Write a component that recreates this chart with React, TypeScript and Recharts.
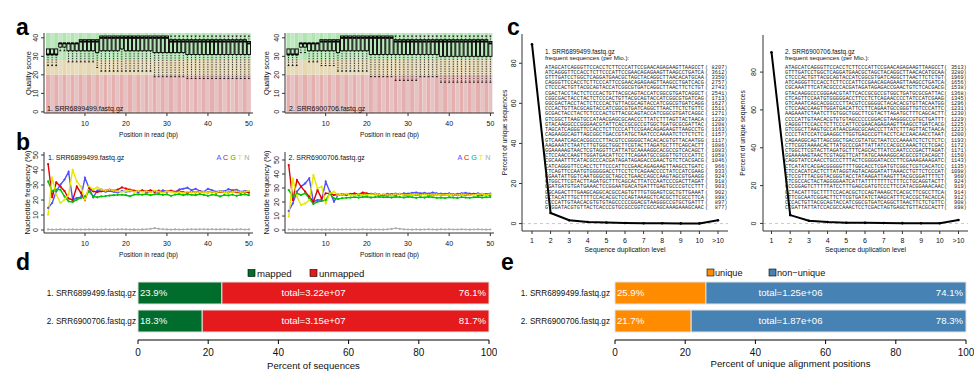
import React from 'react';
import {
  BarChart, Bar, Cell, ComposedChart, LineChart, Line, XAxis, YAxis,
  ReferenceLine, ReferenceDot, LabelList,
} from 'recharts';

const SANS = '"Liberation Sans", Arial, Helvetica, sans-serif';
const MONO = '"Liberation Mono", "DejaVu Sans Mono", monospace';
const INK = '#111';
const FRAME = '#333';

// ---------- panel a : quality per cycle ----------
const positions = Array.from({ length: 50 }, (_, i) => i + 1);
const cycleTicks = [10, 20, 30, 40, 50];
const qualTicks = [0, 10, 20, 30, 40];
const QUAL_DOMAIN: [number, number] = [-0.6, 42.6];

const qual1Lower = [25, 25, 25, 33, 33, 27, 27, 27, 27, 27, 27, 27, 24, 22, 22, 22, 22, 22, 22, 22, 22, 22, 22, 22, 22, 22, 19, 19, 19, 19, 19, 19, 19, 19, 18, 18, 18, 18, 18, 18, 18, 18, 18, 18, 18, 18, 18, 18, 18, 18];
const qual1Q1 = [31, 31, 31, 35, 35, 33, 33, 33, 33, 33, 33, 33, 32, 33, 33, 33, 33, 33, 34, 33, 33, 33, 33, 33, 33, 33, 32, 32, 32, 32, 32, 32, 32, 32, 31, 31, 31, 31, 31, 31, 31, 31, 31, 31, 31, 31, 31, 31, 31, 31];
const qual1Median = [31, 31, 31, 37, 37, 37, 37, 37, 38, 38, 38, 38, 38, 40, 40, 40, 40, 40, 40, 40, 40, 40, 40, 40, 40, 40, 40, 40, 40, 40, 38, 38, 38, 38, 38, 38, 38, 38, 38, 38, 38, 38, 38, 38, 38, 38, 38, 38, 38, 37];
const qual1Q3 = [34, 34, 34, 37, 37, 37, 37, 37, 39, 39, 39, 39, 39, 41, 41, 41, 41, 41, 41, 41, 41, 41, 41, 41, 41, 41, 41, 41, 41, 41, 39, 39, 39, 39, 39, 39, 39, 39, 39, 39, 39, 39, 39, 39, 39, 39, 39, 39, 39, 38];
const qual1Upper = [34, 34, 34, 37, 37, 37, 37, 37, 39, 39, 39, 39, 39, 41, 41, 41, 41, 41, 41, 41, 41, 41, 41, 41, 41, 41, 41, 41, 41, 41, 41, 41, 41, 41, 41, 41, 41, 41, 41, 41, 41, 41, 41, 41, 41, 41, 41, 41, 41, 41];

const qual2Lower = [25, 25, 25, 32, 32, 27, 27, 27, 25, 25, 25, 25, 22, 22, 22, 22, 22, 22, 22, 22, 19, 19, 19, 19, 19, 19, 17, 17, 17, 17, 17, 17, 19, 19, 19, 19, 19, 16, 16, 16, 16, 16, 16, 16, 16, 16, 16, 16, 16, 16];
const qual2Q1 = [31, 31, 31, 35, 35, 33, 33, 33, 33, 33, 33, 33, 32, 33, 33, 33, 33, 33, 33, 33, 31, 31, 31, 31, 31, 31, 31, 31, 31, 31, 31, 31, 31, 31, 31, 31, 31, 30, 30, 30, 30, 30, 30, 30, 30, 30, 30, 30, 30, 30];
const qual2Median = [31, 31, 31, 37, 37, 37, 37, 37, 38, 38, 38, 38, 38, 40, 40, 40, 40, 40, 40, 40, 40, 40, 40, 40, 40, 40, 38, 38, 38, 38, 38, 38, 38, 38, 38, 38, 38, 38, 38, 38, 38, 38, 38, 38, 38, 38, 38, 38, 38, 37];
const qual2Q3 = [34, 34, 34, 37, 37, 37, 37, 37, 39, 39, 39, 39, 39, 41, 41, 41, 41, 41, 41, 41, 41, 41, 41, 41, 41, 41, 39, 39, 39, 39, 39, 39, 39, 39, 39, 39, 39, 39, 39, 39, 39, 39, 39, 39, 39, 39, 39, 39, 39, 38];
const qual2Upper = [34, 34, 34, 37, 37, 37, 37, 37, 39, 39, 39, 39, 39, 41, 41, 41, 41, 41, 41, 41, 41, 41, 41, 41, 41, 41, 41, 41, 41, 41, 41, 41, 41, 41, 41, 41, 41, 41, 41, 41, 41, 41, 41, 41, 41, 41, 41, 41, 41, 41];

// background bands: below 20 poor, 20-28 fair, above 28 good
const qualZones = [
  { key: 'under', size: QUAL_DOMAIN[0], fills: ['#e6afaf', '#e6c3c3'] },
  { key: 'poor', size: 20, fills: ['#e6afaf', '#e6c3c3'] },
  { key: 'fair', size: 8, fills: ['#e6d7af', '#e6dcc3'] },
  { key: 'good', size: QUAL_DOMAIN[1] - 28, fills: ['#afe6af', '#c3e6c3'] },
];

// ---------- panel b : nucleotide frequency ----------
const nuc1A = [14.7, 18, 25.8, 30.2, 33.6, 38.7, 20.2, 21.3, 21.8, 34.7, 28, 21.8, 26.2, 27, 25.5, 26, 25.5, 25, 26, 25.5, 25.8, 26, 25.2, 26.5, 25, 25.5, 26, 25, 26.5, 25.5, 26, 25.2, 27, 27.5, 28.2, 26.5, 27.5, 26, 25.5, 27.5, 26.5, 25.5, 26, 25.8, 27.2, 26.5, 26.8, 25.5, 26, 25.8];
const nuc1C = [44, 21.8, 31.8, 29, 26, 21, 20, 29, 24.7, 20, 28, 25.8, 25.3, 25.8, 26.2, 26.9, 26.2, 26.9, 28.4, 27.6, 26.9, 26.2, 25.8, 26.2, 25.8, 26.5, 25.3, 26.2, 25.3, 25.8, 26.2, 25.5, 25.8, 25.2, 24.8, 25.5, 25, 25.8, 25.2, 25, 25.5, 24.8, 25.5, 25.2, 25, 25.8, 25.2, 24.8, 25.5, 24.9];
const nuc1G = [32.4, 25.8, 26.9, 26.9, 22.4, 19.1, 18.7, 20.2, 21.3, 22.4, 25.8, 22.4, 21.8, 22.4, 22.6, 23, 23.2, 23.4, 23.5, 23.2, 22.5, 23.6, 23.8, 23.5, 24, 23.2, 23.8, 24, 23.4, 23.8, 22.8, 23.6, 24, 23.2, 23.8, 23.5, 23.2, 24, 23.4, 22.8, 23.6, 23.2, 22.4, 23.4, 23, 23.6, 22.8, 23.4, 23.8, 23.2];
const nuc1T = [10.2, 35.1, 23.6, 18, 20.2, 23.6, 40.2, 32.4, 29, 20.2, 29, 26.9, 28.4, 26.9, 26.2, 26.9, 26.2, 25.8, 25.5, 25.8, 26.2, 25.5, 26, 25.5, 25.8, 25.2, 26.2, 25.5, 25, 25.8, 25.5, 25, 25.2, 24.8, 25.5, 25.2, 25, 25.5, 25.2, 24.8, 25.5, 25, 25.8, 25.2, 25, 25.5, 25.8, 25.2, 25.5, 26];
const nuc1N = [0.4, 0.3, 0.3, 0.4, 0.3, 0.3, 0.4, 0.3, 0.3, 0.3, 0.4, 0.3, 0.3, 0.3, 0.4, 0.3, 0.3, 0.4, 0.5, 0.4, 0.3, 0.4, 0.3, 0.4, 0.5, 0.8, 1.2, 0.8, 0.5, 0.4, 0.3, 0.4, 0.3, 0.3, 0.4, 0.5, 0.4, 0.5, 0.5, 0.4, 0.5, 0.4, 0.4, 0.5, 0.4, 0.3, 0.4, 0.5, 0.3, 0.4];

const nuc2A = [13.6, 19, 27.4, 31, 33.3, 36.9, 20.2, 21.4, 21.4, 34.5, 27.4, 20.2, 25, 25.5, 25.2, 25.5, 25.8, 25, 25.5, 25.2, 25.8, 26, 25.5, 25.2, 25.8, 25.5, 26, 25.5, 26.2, 26, 26.5, 26.8, 26.2, 26.5, 26, 26.8, 26.2, 26, 25.8, 26.2, 25.5, 25.8, 26.2, 26.5, 26, 25.8, 26.2, 25.8, 25.5, 26];
const nuc2C = [46.4, 21.4, 35.7, 31, 27.4, 23.8, 20.2, 28.6, 22.6, 26.2, 26.2, 25, 25.3, 25.5, 25.2, 25.8, 26.2, 25.5, 26.8, 26.2, 25.8, 25.5, 25, 25.2, 24.8, 25.5, 25, 25.8, 25.2, 24.8, 25.5, 25, 25.2, 25.8, 25, 24.8, 25.5, 25.2, 25, 25.5, 25.2, 24.8, 25.5, 25, 25.2, 25.8, 25, 25.2, 25.5, 25];
const nuc2G = [28.6, 23.8, 26.2, 25, 26.2, 22.6, 18.6, 20.2, 20.7, 21.4, 26.2, 22.6, 22.1, 22.8, 23, 23.2, 23.5, 23.2, 23.6, 23.8, 23.2, 23.5, 23.8, 23.4, 23.6, 23.2, 23.8, 23.5, 23.2, 23.8, 23.4, 23, 23.5, 23.2, 23.8, 23.4, 23, 23.2, 22.8, 23.4, 23.2, 22.8, 23.5, 23.2, 23, 23.4, 23.6, 23.2, 23.4, 23.5];
const nuc2T = [9.5, 36.9, 23.8, 17.9, 19, 21.4, 39.3, 29.8, 31, 19, 26.2, 27.4, 25, 25.5, 25.8, 25.2, 24.8, 25.5, 25, 25.2, 25.5, 25.8, 25.2, 25.5, 25, 25.2, 25.5, 25.8, 25.2, 25, 25.5, 25.2, 25, 25.5, 25.2, 24.8, 25.5, 25.2, 25, 25.5, 25.2, 25, 25.5, 25.2, 25, 25.2, 25.5, 25.8, 25.2, 25.5];
const nuc2N = [0.4, 0.3, 0.3, 0.3, 0.4, 0.3, 0.3, 0.4, 0.3, 0.3, 0.3, 0.4, 0.3, 0.3, 0.4, 0.3, 0.4, 0.3, 0.5, 0.4, 0.3, 0.4, 0.4, 0.3, 0.5, 0.8, 1.3, 0.9, 0.5, 0.4, 0.3, 0.4, 0.3, 0.4, 0.5, 0.4, 0.3, 0.5, 0.4, 0.5, 0.4, 0.4, 0.5, 0.4, 0.3, 0.4, 0.5, 0.4, 0.3, 0.4];

const nucTicks = [0, 10, 20, 30, 40, 50];
const nucSeries = [
  { key: 'A', color: '#5050ff' },
  { key: 'C', color: '#e00000' },
  { key: 'G', color: '#00c000' },
  { key: 'T', color: '#e6e600' },
  { key: 'N', color: '#a9a9a9' },
];

// ---------- panel c : duplication levels ----------
const dupLevels = ['1', '2', '3', '4', '5', '6', '7', '8', '9', '10', '>10'];
const dup1 = [89.5, 5.3, 1.7, 0.8, 0.5, 0.3, 0.2, 0.15, 0.1, 0.1, 1.7];
const dup2 = [90.5, 4.4, 1.4, 0.7, 0.4, 0.3, 0.2, 0.15, 0.1, 0.1, 1.8];
const dupTicks = [0, 20, 40, 60, 80];

const freqSeqs1 = [
  'ATAGCATCAGGGTTCCACCTCTTCCCATTCCGAACAGAGAAGTTAAGCCT',
  'ATCAGGGTTCCACCTCTTCCCATTCCGAACAGAGAAGTTAAGCCTGATCA',
  'GTTTGATCCTGGCTCAGGATGAACGCTAGCTACAGGCTTAACACATGCAA',
  'CAGGGTTCCACCTCTTCCCATTCCGAACAGAGAAGTTAAGCCTGATCACG',
  'CTCCCACTGTTACGCAGTACCATCGGCGTGATCAGGCTTAACTTCTCTGT',
  'CGACTACCTACTCTCCCACTGTTACGCAGTACCATCGGCGTGATCAGGCT',
  'CGGCGACTACCTACTCTCCCACTGTTACGCAGTACCATCGGCGTGATCAG',
  'GGCGACTACCTACTCTCCCACTGTTACGCAGTACCATCGGCGTGATCAGG',
  'CCCACTGTTACGCAGTACCATCGGCGTGATCAGGCTTAACTTCTCTGTTC',
  'GCGACTACCTACTCTCCCACTGTTACGCAGTACCATCGGCGTGATCAGGC',
  'GTCGGCTTAAGTGCCATAACGAGCGCAACCCTTATCTTTAGTTACTAACA',
  'GTACAAGGCCCGGGAACGTATTCACCGCGCCGTGGCTGATGCGCGATTAC',
  'TAGCATCAGGGTTCCACCTCTTCCCATTCCGAACAGAGAAGTTAAGCCTG',
  'CAGAAGGCAGTTAGCGGCTGACCGTATGCTAATCCCAAAATCTCTCTCTC',
  'GTCAAATCAGCACGGCCCTTACGTCCGGGGCTACACACGTGTTACAATGG',
  'AAGAAATCTAATCTTGTGGCTGGCTTCGTACTTAGATGCTTTCAGCACTT',
  'GGAAAAAGTAACTCGTAGGTTCATTATGCAAAAGGCACGCCGTCACAGCT',
  'CTCCAACCAAGTTGGATGACATTCCTTCAGAATGCCGGGTTGTCCCATTC',
  'CGCAAATTTCATACGCCCACGATAGATAGAGACCGAACTGTCTCACGACG',
  'CATCAGGGTTCCACCTCTTCCCATTCCGAACAGAGAAGTTAAGCCTGATC',
  'CTCAGTTCCAATGTGGGGGACCTTCCTCTCAGAACCCCTATCCATCGAAG',
  'GGAATATTGGTCAATGGGCGCTAGCCTGAACCAGCCAAGTAGCGTGAAGG',
  'CTGGCTTCGTACTTAGATGCTTTCAGCACTTATCCAATCCCGACTTAGAT',
  'GGATGATGTGATGAAACTCCGGAATGACATGATTTGAGTGCCCGTCCTTT',
  'GGCAGACTTTGAAGCAGGCACGCCAGTGTTTGTGGAGTCGCTGTTGAAAT',
  'GCTACATTTGCTTTTCCACACGCTCCAGTAAAGCTCACGCTTCGCCTTCA',
  'CCCCATTGTAACACGTGTGTAGCCCCCGGACGTAAGGGCCGTGCTGATTT',
  'GTGGATACGTGTTACTCACCCGTGCGCCGGTCGCCAGCAAAGAAAGCAAC',
];
const freqCounts1 = [8207, 3612, 3350, 2757, 2743, 2541, 1713, 1627, 1511, 1271, 1220, 1208, 1163, 1157, 1117, 1086, 1083, 1058, 1046, 966, 933, 924, 918, 903, 902, 898, 897, 877];

const freqSeqs2 = [
  'ATAGCATCAGGGTTCCACCTCTTCCCATTCCGAACAGAGAAGTTAAGCCT',
  'GTTTGATCCTGGCTCAGGATGAACGCTAGCTACAGGCTTAACACATGCAA',
  'CTCCCACTGTTACGCAGTACCATCGGCGTGATCAGGCTTAACTTCTCTGT',
  'ATCAGGGTTCCACCTCTTCCCATTCCGAACAGAGAAGTTAAGCCTGATCA',
  'CGCAAATTTCATACGCCCACGATAGATAGAGACCGAACTGTCTCACGACG',
  'GTACAAGGCCCGGGAACGTATTCACCGCGCCGTGGCTGATGCGCGATTAC',
  'CTCAGTTCCAATGTGGGGGACCTTCCTCTCAGAACCCCTATCCATCGAAG',
  'GTCAAATCAGCACGGCCCTTACGTCCGGGGCTACACACGTGTTACAATGG',
  'CTCCAACCAAGTTGGATGACATTCCTTCAGAATGCCGGGTTGTCCCATTC',
  'AAGAAATCTAATCTTGTGGCTGGCTTCGTACTTAGATGCTTTCAGCACTT',
  'CCCCATTGTAACACGTGTGTAGCCCCCGGACGTAAGGGCCGTGCTGATTT',
  'CAGGGTTCCACCTCTTCCCATTCCGAACAGAGAAGTTAAGCCTGATCACG',
  'GTCGGCTTAAGTGCCATAACGAGCGCAACCCTTATCTTTAGTTACTAACA',
  'CCCCTATCCATCGAAGGCTTGGTGAGCCGTTACCTCACCAACAACCTAAT',
  'CAGAAGGCAGTTAGCGGCTGACCGTATGCTAATCCCAAAATCTCTCTCTC',
  'CTTCGGTAAAACACTTATGCCCGATTATTATCCACGCCAAACTCCTCGAC',
  'CTGGCTTCGTACTTAGATGCTTTCAGCACTTATCCAATCCCGACTTAGAT',
  'GGAAAAAGTAACTCGTAGGTTCATTATGCAAAAGGCACGCCGTCACAGCT',
  'CAGGTATCCAACCTGCCCTTTACTCGGGGATACCCTTCGAAAGAAAGATC',
  'CTCATATCACGACGGGGGTTTTGGCACCTCGATGTCGGCTCGTCACATCC',
  'CTCCACATCACTCTTATAGGTAGTACAGGATATTAAACCTGTTCTCCCAT',
  'GTCCGTTTACGGTACGGGTACCTATAAGATTAAGTTTACGCGGATTTTCT',
  'GTCGCCACTACTAGGGGAATCATTATTTTTTTTCTTTCCTGCAGGTACTT',
  'GCCGGAGTCTTTTTATCCTTTGAGCGATGTCCCTTCCATACGGAAACAAC',
  'GCTACATTTGCTTTTCCACACGCTCCAGTAAAGCTCACGCTTCGCCTTCA',
  'GTTCGCAATCGGACTTCTTCGTGATATCTAAGCATTTCACCGCTACACCA',
  'CCCACTGTTACGCAGTACCATCGGCGTGATCAGGCTTAACTTCTCTGTTC',
  'CCGATTATTATCCACGCCAAACTCCTCGACTAGTGAGCTGTTACGCACTT',
];
const freqCounts2 = [3513, 3280, 1969, 1656, 1538, 1368, 1345, 1296, 1231, 1230, 1229, 1225, 1223, 1200, 1193, 1172, 1171, 1150, 1143, 1135, 1098, 960, 924, 919, 914, 912, 908, 898];

// ---------- panels d, e : mapping and uniqueness ----------
const samples = ['1. SRR6899499.fastq.gz', '2. SRR6900706.fastq.gz'];
const mappedPct = [23.9, 18.3];
const unmappedPct = [76.1, 81.7];
const mappedTotals = ['3.22e+07', '3.15e+07'];
const uniquePct = [25.9, 21.7];
const nonUniquePct = [74.1, 78.3];
const uniqueTotals = ['1.25e+06', '1.87e+06'];
const pctTicks = [0, 20, 40, 60, 80, 100];

// ---------- helpers ----------
type Box = { x0: number; y0: number; x1: number; y1: number };

const place = (b: Box, yw: number, xh: number) => ({
  style: { position: 'absolute' as const, left: b.x0 - yw - 2, top: b.y0 - 2 },
  width: b.x1 - b.x0 + yw + 4,
  height: b.y1 - b.y0 + xh + 4,
  margin: { top: 2, right: 2, bottom: 2, left: 2 },
});

const XTick = (props: any) => {
  const { x, y, payload, fs = 7 } = props;
  return (
    <text x={x} y={y} dy="0.71em" textAnchor="middle" fontSize={fs} fontFamily={SANS} fill={INK}>
      {payload?.value}
    </text>
  );
};

const RotTick = (props: any) => {
  const { x, y, payload, fs = 7 } = props;
  return (
    <text x={x} y={y} dy="0.35em" textAnchor="middle" fontSize={fs} fontFamily={SANS} fill={INK}
      transform={`rotate(-90 ${x} ${y})`}>
      {payload?.value}
    </text>
  );
};

const CatTick = (props: any) => {
  const { x, y, payload } = props;
  return (
    <text x={x} y={y} dy="0.35em" textAnchor="end" fontSize={8.2} fontFamily={SANS} fill={INK}>
      {payload?.value}
    </text>
  );
};

// one boxplot per cycle, drawn inside the bar spanning lower..upper whisker
const BoxShape = (props: any) => {
  const { x, y, width, height, payload } = props;
  if (!payload || width == null || height == null) return null;
  const { lw, q1, med, q3, uw } = payload;
  const top = Math.min(y, y + height);
  const h = Math.abs(height);
  const py = (v: number) => top + (h * (uw - v)) / (uw - lw);
  const cx = x + width / 2;
  const bw = width * 0.8;
  const sw = width * 0.45;
  return (
    <g>
      {uw > q3 && (
        <>
          <line x1={cx} x2={cx} y1={py(uw)} y2={py(q3)} stroke="#000" strokeWidth={0.8} strokeDasharray="1.2 1.2" />
          <line x1={cx - sw / 2} x2={cx + sw / 2} y1={py(uw)} y2={py(uw)} stroke="#000" strokeWidth={0.8} />
        </>
      )}
      {q1 > lw && (
        <>
          <line x1={cx} x2={cx} y1={py(q1)} y2={py(lw)} stroke="#000" strokeWidth={0.8} strokeDasharray="1.2 1.2" />
          <line x1={cx - sw / 2} x2={cx + sw / 2} y1={py(lw)} y2={py(lw)} stroke="#000" strokeWidth={0.9} />
        </>
      )}
      <rect x={cx - bw / 2} y={py(q3)} width={bw} height={py(q1) - py(q3)} fill="none" stroke="#000" strokeWidth={0.9} />
      <line x1={cx - bw / 2} x2={cx + bw / 2} y1={py(med)} y2={py(med)} stroke="#000" strokeWidth={2} />
    </g>
  );
};

// ---------- panel components ----------
function QualityPanel({ box, pad, lower, q1, median, q3, upper }: any) {
  const f = place(box, 12, 14);
  const rows = positions.map((pos, i) => ({ pos, lw: lower[i], q1: q1[i], med: median[i], q3: q3[i], uw: upper[i] }));
  const zoneRows = positions.map((pos) => {
    const r: any = { pos };
    qualZones.forEach((z) => { r[z.key] = z.size; });
    return r;
  });
  const xPad = { left: pad, right: pad };
  return (
    <>
      <div style={f.style}>
        <BarChart width={f.width} height={f.height} data={zoneRows} margin={f.margin} stackOffset="sign" barCategoryGap={0} barGap={0}>
          <XAxis dataKey="pos" type="category" padding={xPad} height={14} tick={false} tickLine={false} axisLine={false} />
          <YAxis type="number" domain={QUAL_DOMAIN} allowDataOverflow width={12} tick={false} tickLine={false} axisLine={false} />
          {qualZones.map((z) => (
            <Bar key={z.key} dataKey={z.key} stackId="zone" isAnimationActive={false}>
              {zoneRows.map((_, i) => <Cell key={i} fill={z.fills[i % 2]} />)}
            </Bar>
          ))}
        </BarChart>
      </div>
      <div style={f.style}>
        <ComposedChart width={f.width} height={f.height} data={rows} margin={f.margin} barCategoryGap={0} barGap={0}>
          <XAxis dataKey="pos" type="category" padding={xPad} height={14} ticks={cycleTicks} interval={0}
            tickSize={3} tickMargin={5} tick={<XTick fs={7} />} axisLine={{ stroke: FRAME }} tickLine={{ stroke: FRAME }} />
          <XAxis xAxisId="top" orientation="top" dataKey="pos" type="category" padding={xPad} height={0}
            tick={false} tickLine={false} axisLine={{ stroke: FRAME }} />
          <YAxis type="number" domain={QUAL_DOMAIN} allowDataOverflow width={12} ticks={qualTicks} interval={0}
            tickSize={3} tickMargin={5} tick={<RotTick fs={7} />} axisLine={{ stroke: FRAME }} tickLine={{ stroke: FRAME }} />
          <YAxis yAxisId="right" orientation="right" type="number" domain={[0, 1]} width={0}
            tick={false} tickLine={false} axisLine={{ stroke: FRAME }} />
          <Bar dataKey={(r: any) => [r.lw, r.uw]} isAnimationActive={false} shape={(p: any) => <BoxShape {...p} />} />
        </ComposedChart>
      </div>
    </>
  );
}

function NucleotidePanel({ box, xDomain, yDomain, series }: any) {
  const f = place(box, 12, 14);
  const rows = positions.map((pos, i) => ({ pos, A: series.A[i], C: series.C[i], G: series.G[i], T: series.T[i], N: series.N[i] }));
  return (
    <div style={f.style}>
      <LineChart width={f.width} height={f.height} data={rows} margin={f.margin}>
        <XAxis dataKey="pos" type="number" domain={xDomain} allowDataOverflow height={14} ticks={cycleTicks} interval={0}
          tickSize={3} tickMargin={5} tick={<XTick fs={7} />} axisLine={{ stroke: FRAME }} tickLine={{ stroke: FRAME }} />
        <XAxis xAxisId="top" orientation="top" dataKey="pos" type="number" domain={xDomain} allowDataOverflow height={0}
          tick={false} tickLine={false} axisLine={{ stroke: FRAME }} />
        <YAxis type="number" domain={yDomain} allowDataOverflow width={12} ticks={nucTicks} interval={0}
          tickSize={3} tickMargin={5} tick={<RotTick fs={7} />} axisLine={{ stroke: FRAME }} tickLine={{ stroke: FRAME }} />
        <YAxis yAxisId="right" orientation="right" type="number" domain={[0, 1]} width={0}
          tick={false} tickLine={false} axisLine={{ stroke: FRAME }} />
        {nucSeries.map((s) => (
          <Line key={s.key} dataKey={s.key} type="linear" stroke={s.color} strokeWidth={s.key === 'N' ? 1 : 1.4}
            dot={{ r: 1.1, fill: s.color, stroke: 'none' }} isAnimationActive={false} />
        ))}
      </LineChart>
    </div>
  );
}

function DuplicationPanel({ box, values, yDomain, xPad, yMargin }: any) {
  const f = place(box, 12, 14);
  const rows = dupLevels.map((level, i) => ({ level, pct: values[i] }));
  return (
    <div style={f.style}>
      <LineChart width={f.width} height={f.height} data={rows} margin={f.margin}>
        <XAxis dataKey="level" type="category" scale="point" padding={xPad} height={14} interval={0}
          tickSize={3} tickMargin={4} tick={<XTick fs={7} />} axisLine={{ stroke: FRAME }} tickLine={{ stroke: FRAME }} />
        <XAxis xAxisId="top" orientation="top" dataKey="level" type="category" scale="point" padding={xPad} height={0}
          tick={false} tickLine={false} axisLine={{ stroke: FRAME }} />
        <YAxis type="number" domain={yDomain} allowDataOverflow width={12} ticks={dupTicks} interval={0}
          tickSize={3} tickMargin={yMargin} tick={<RotTick fs={7} />} axisLine={{ stroke: FRAME }} tickLine={{ stroke: FRAME }} />
        <YAxis yAxisId="right" orientation="right" type="number" domain={[0, 1]} width={0}
          tick={false} tickLine={false} axisLine={{ stroke: FRAME }} />
        <ReferenceLine y={0} stroke="#c8c8c8" strokeDasharray="3 3" />
        <Line dataKey="pct" type="linear" stroke="#000" strokeWidth={2} dot={{ r: 1.3, fill: '#000', stroke: 'none' }}
          isAnimationActive={false} />
      </LineChart>
    </div>
  );
}

function ShareBars({ left, yw, plotW, first, second, totals, colors, tickGap }: any) {
  const rows = samples.map((name, i) => ({
    name,
    first: first[i],
    second: second[i],
    firstLabel: `${first[i]}%`,
    secondLabel: `${second[i]}%`,
    total: `total=${totals[i]}`,
  }));
  const mr = 8;
  const labelStyle = { fill: '#fff', fontSize: 9.6, fontFamily: SANS };
  return (
    <div style={{ position: 'absolute', left, top: 277 }}>
      <BarChart layout="vertical" width={yw + plotW + mr} height={87} data={rows}
        margin={{ top: 2, right: mr, bottom: 2, left: 0 }} barSize={22}>
        <XAxis type="number" domain={[0, 100]} ticks={pctTicks} interval={0} height={22} tickSize={4} tickMargin={5}
          tick={<XTick fs={10} />} axisLine={{ stroke: '#000' }} tickLine={{ stroke: '#000' }} />
        <YAxis type="category" dataKey="name" width={yw} tickSize={0} tickMargin={tickGap} axisLine={false}
          tickLine={false} tick={<CatTick />} padding={{ top: 0, bottom: 5 }} />
        <Bar dataKey="first" stackId="s" fill={colors[0]} stroke="#e2e2e2" strokeWidth={1} isAnimationActive={false}>
          <LabelList dataKey="firstLabel" position="insideLeft" offset={2} {...labelStyle} />
        </Bar>
        <Bar dataKey="second" stackId="s" fill={colors[1]} stroke="#e2e2e2" strokeWidth={1} isAnimationActive={false}>
          <LabelList dataKey="secondLabel" position="insideRight" offset={3} {...labelStyle} />
        </Bar>
        {rows.map((r) => (
          <ReferenceDot key={r.name} x={50} y={r.name} r={0} fill="none" stroke="none"
            label={{ value: r.total, position: 'center', ...labelStyle }} />
        ))}
      </BarChart>
    </div>
  );
}

// ---------- text layer ----------
const panelLetters = [
  { t: 'a', x: 16, y: 35 },
  { t: 'b', x: 16, y: 150 },
  { t: 'c', x: 507, y: 35 },
  { t: 'd', x: 16, y: 270 },
  { t: 'e', x: 501, y: 270 },
];

function SeqBlock({ x, parenX, endX, title, seqs, counts }: any) {
  return (
    <g>
      <text x={x} y={53.5} fontSize={6.4} fontFamily={SANS} fill={INK}>{title}</text>
      <text x={x} y={59.8} fontSize={6.2} fontFamily={SANS} fill={INK}>frequent sequences (per Mio.):</text>
      {seqs.map((s: string, i: number) => (
        <g key={i}>
          <text x={x} y={68.6 + i * 5.21} fontSize={5.3} fontFamily={MONO} fill="#222">{s}</text>
          <text x={parenX} y={68.6 + i * 5.21} fontSize={5.3} fontFamily={MONO} fill="#222">(</text>
          <text x={endX} y={68.6 + i * 5.21} fontSize={5.3} fontFamily={MONO} fill="#222" textAnchor="end">{`${counts[i]})`}</text>
        </g>
      ))}
    </g>
  );
}

function TextLayer() {
  const yTitle = (label: string, x: number, y: number, fs: number) => (
    <text x={x} y={y} dy="0.35em" textAnchor="middle" fontSize={fs} fontFamily={SANS} fill={INK}
      transform={`rotate(-90 ${x} ${y})`}>{label}</text>
  );
  const xTitle = (label: string, x: number, y: number, fs: number) => (
    <text x={x} y={y} textAnchor="middle" fontSize={fs} fontFamily={SANS} fill={INK}>{label}</text>
  );
  const acgt = (xEnd: number, y: number) => (
    <text x={xEnd} y={y} textAnchor="end" fontSize={7.3} fontFamily={SANS}>
      {nucSeries.map((s, i) => (
        <tspan key={s.key} fill={s.color}>{s.key + (i < nucSeries.length - 1 ? ' ' : '')}</tspan>
      ))}
    </text>
  );
  return (
    <svg width={974} height={375} style={{ position: 'absolute', left: 0, top: 0, pointerEvents: 'none' }}>
      {panelLetters.map((l) => (
        <text key={l.t} x={l.x} y={l.y} fontSize={23} fontWeight="bold" fontFamily={SANS} fill="#000">{l.t}</text>
      ))}

      {/* panel a */}
      {yTitle('Quality score', 28, 73, 7.5)}
      {yTitle('Quality score', 266, 73, 7.5)}
      {xTitle('Position in read (bp)', 148.5, 136.5, 6.6)}
      {xTitle('Position in read (bp)', 389.5, 136.5, 6.6)}
      <text x={47} y={111} fontSize={7} fontFamily={SANS} fill={INK}>1. SRR6899499.fastq.gz</text>
      <text x={289} y={111} fontSize={7} fontFamily={SANS} fill={INK}>2. SRR6900706.fastq.gz</text>

      {/* panel b */}
      {yTitle('Nucleotide frequency (%)', 27, 192.5, 7.5)}
      {yTitle('Nucleotide frequency (%)', 266, 192.5, 7.5)}
      {xTitle('Position in read (bp)', 148.5, 256.5, 6.6)}
      {xTitle('Position in read (bp)', 389.5, 256.5, 6.6)}
      <text x={48} y={160} fontSize={7} fontFamily={SANS} fill={INK}>1. SRR6899499.fastq.gz</text>
      <text x={288.5} y={160} fontSize={7} fontFamily={SANS} fill={INK}>2. SRR6900706.fastq.gz</text>
      {acgt(249.5, 160)}
      {acgt(490.5, 160)}

      {/* panel c */}
      {yTitle('Percent of unique sequences', 505, 132.5, 6.6)}
      {yTitle('Percent of unique sequences', 743, 133, 6.6)}
      {xTitle('Sequence duplication level', 625, 252, 6.8)}
      {xTitle('Sequence duplication level', 865.5, 252, 6.8)}
      <SeqBlock x={545} parenX={705} endX={727.5} title="1. SRR6899499.fastq.gz" seqs={freqSeqs1} counts={freqCounts1} />
      <SeqBlock x={785} parenX={944} endX={966.8} title="2. SRR6900706.fastq.gz" seqs={freqSeqs2} counts={freqCounts2} />

      {/* panel d legend + title */}
      <rect x={248} y={269.5} width={7} height={7} fill="#006d2c" stroke="#000" strokeWidth={0.6} />
      <text x={257} y={276.5} fontSize={9.6} fontFamily={SANS} fill={INK}>mapped</text>
      <rect x={310} y={269.5} width={7} height={7} fill="#e41a1c" stroke="#000" strokeWidth={0.6} />
      <text x={319} y={276.5} fontSize={9.6} fontFamily={SANS} fill={INK}>unmapped</text>
      {xTitle('Percent of sequences', 313.5, 369, 9.6)}

      {/* panel e legend + title */}
      <rect x={707} y={269} width={7} height={7} fill="#ff8c00" stroke="#000" strokeWidth={0.6} />
      <text x={715} y={276} fontSize={9.2} fontFamily={SANS} fill={INK}>unique</text>
      <rect x={769} y={269} width={7} height={7} fill="#4682b4" stroke="#000" strokeWidth={0.6} />
      <text x={777} y={276} fontSize={9.2} fontFamily={SANS} fill={INK}>non−unique</text>
      {xTitle('Percent of unique alignment positions', 790.5, 367, 9.6)}
    </svg>
  );
}

export default function App() {
  return (
    <div style={{ position: 'absolute', left: 0, top: 0, width: 974, height: 375, background: '#fff', overflow: 'hidden' }}>
      <QualityPanel box={{ x0: 44, y0: 33, x1: 253, y1: 113 }} pad={2}
        lower={qual1Lower} q1={qual1Q1} median={qual1Median} q3={qual1Q3} upper={qual1Upper} />
      <QualityPanel box={{ x0: 285, y0: 33, x1: 494, y1: 113 }} pad={1.5}
        lower={qual2Lower} q1={qual2Q1} median={qual2Median} q3={qual2Q3} upper={qual2Upper} />

      <NucleotidePanel box={{ x0: 44, y0: 152, x1: 253, y1: 233 }} xDomain={[0, 51]} yDomain={[-2, 52]}
        series={{ A: nuc1A, C: nuc1C, G: nuc1G, T: nuc1T, N: nuc1N }} />
      <NucleotidePanel box={{ x0: 285, y0: 152, x1: 494, y1: 233 }} xDomain={[0.1, 50.9]} yDomain={[-2.1, 55.7]}
        series={{ A: nuc2A, C: nuc2C, G: nuc2G, T: nuc2T, N: nuc2N }} />

      <DuplicationPanel box={{ x0: 522, y0: 34, x1: 728, y1: 231 }} values={dup1} yDomain={[-3.7, 94.6]}
        xPad={{ left: 10, right: 10 }} yMargin={5} />
      <DuplicationPanel box={{ x0: 763, y0: 35, x1: 968, y1: 231 }} values={dup2} yDomain={[-4, 99.6]}
        xPad={{ left: 8.5, right: 9.5 }} yMargin={6} />

      <ShareBars left={0} yw={138} plotW={351} first={mappedPct} second={unmappedPct} totals={mappedTotals}
        colors={['#006d2c', '#e41a1c']} tickGap={2} />
      <ShareBars left={500} yw={115} plotW={351} first={uniquePct} second={nonUniquePct} totals={uniqueTotals}
        colors={['#ff8c00', '#4682b4']} tickGap={5} />

      <TextLayer />
    </div>
  );
}
